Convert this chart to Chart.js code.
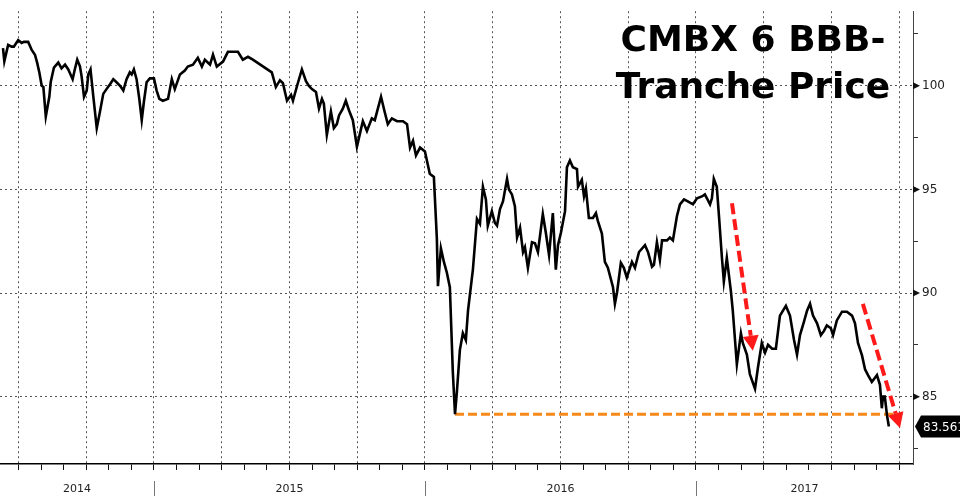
<!DOCTYPE html>
<html>
<head>
<meta charset="utf-8">
<script src="https://cdn.jsdelivr.net/npm/chart.js@4"></script>
<style>
  body { margin: 0; background: #fff; }
  #wrap { width: 960px; height: 496px; position: relative; }
</style>
</head>
<body>
<div id="wrap"><canvas id="myChart"></canvas></div>
<script>
// dates as decimal years, price
var dates = [
  2014.443,2014.448,2014.462,2014.475,2014.483,2014.499,2014.512,2014.520,2014.536,2014.549,
  2014.561,2014.569,2014.577,2014.586,2014.592,2014.601,2014.614,2014.619,2014.631,2014.647,
  2014.659,2014.672,2014.684,2014.700,2014.708,2014.717,2014.727,2014.733,2014.742,2014.752,
  2014.758,2014.766,2014.776,2014.789,2014.801,2014.813,2014.825,2014.838,2014.850,2014.862,
  2014.875,2014.887,2014.899,2014.911,2014.918,2014.926,2014.936,2014.946,2014.955,2014.963,
  2014.973,2014.985,2015.000,2015.010,2015.020,2015.033,2015.052,2015.066,2015.077,2015.096,
  2015.114,2015.125,2015.144,2015.162,2015.177,2015.188,2015.207,2015.218,2015.232,2015.255,
  2015.273,2015.292,2015.310,2015.328,2015.347,2015.365,2015.387,2015.413,2015.435,2015.450,
  2015.465,2015.476,2015.491,2015.506,2015.513,2015.528,2015.546,2015.561,2015.572,2015.583,
  2015.598,2015.609,2015.620,2015.627,2015.638,2015.653,2015.664,2015.675,2015.683,2015.697,
  2015.708,2015.720,2015.734,2015.749,2015.764,2015.771,2015.786,2015.804,2015.815,2015.838,
  2015.852,2015.863,2015.878,2015.897,2015.919,2015.934,2015.945,2015.956,2015.967,2015.982,
  2016.000,2016.018,2016.033,2016.044,2016.048,2016.059,2016.070,2016.081,2016.092,2016.103,
  2016.111,2016.118,2016.129,2016.140,2016.151,2016.159,2016.177,2016.192,2016.203,2016.214,
  2016.225,2016.232,2016.247,2016.258,2016.266,2016.277,2016.288,2016.303,2016.310,2016.321,
  2016.332,2016.340,2016.351,2016.362,2016.369,2016.380,2016.395,2016.406,2016.417,2016.435,
  2016.446,2016.458,2016.472,2016.483,2016.491,2016.502,2016.517,2016.524,2016.535,2016.546,
  2016.561,2016.565,2016.579,2016.587,2016.594,2016.605,2016.620,2016.631,2016.638,2016.653,
  2016.664,2016.675,2016.694,2016.701,2016.709,2016.723,2016.734,2016.745,2016.764,2016.775,
  2016.790,2016.812,2016.823,2016.838,2016.845,2016.856,2016.867,2016.875,2016.893,2016.904,
  2016.915,2016.930,2016.941,2016.956,2016.970,2016.989,2017.004,2017.022,2017.033,2017.052,
  2017.059,2017.066,2017.077,2017.085,2017.096,2017.103,2017.114,2017.129,2017.136,2017.151,
  2017.166,2017.173,2017.188,2017.199,2017.218,2017.229,2017.243,2017.255,2017.266,2017.281,
  2017.295,2017.310,2017.332,2017.347,2017.362,2017.373,2017.384,2017.399,2017.410,2017.421,
  2017.432,2017.447,2017.461,2017.472,2017.483,2017.498,2017.506,2017.520,2017.539,2017.557,
  2017.576,2017.587,2017.598,2017.613,2017.624,2017.635,2017.649,2017.668,2017.679,2017.686,
  2017.690,2017.697,2017.705,2017.712
];
var price = [
  101.82,101.18,101.97,101.89,101.89,102.20,102.07,102.12,102.12,101.73,
  101.50,101.12,100.65,100.00,99.94,98.52,99.47,100.17,100.88,101.12,
  100.84,101.02,100.79,100.32,100.79,101.26,100.94,100.47,99.47,99.77,
  100.55,100.79,99.53,97.96,98.76,99.61,99.84,100.08,100.32,100.17,
  100.00,99.77,100.32,100.65,100.55,100.79,100.32,99.37,98.35,99.23,
  100.17,100.36,100.36,99.77,99.37,99.28,99.37,100.32,99.84,100.55,
  100.74,100.93,101.02,101.35,100.93,101.26,101.02,101.50,100.93,101.17,
  101.64,101.64,101.64,101.26,101.40,101.26,101.07,100.84,100.65,99.94,
  100.27,100.13,99.28,99.56,99.28,99.99,100.79,100.22,99.99,99.84,
  99.70,98.90,99.37,99.14,97.63,98.76,97.96,98.15,98.57,98.90,
  99.28,98.81,98.34,97.06,97.91,98.29,97.82,98.43,98.34,99.47,
  98.71,98.15,98.43,98.29,98.29,98.15,97.02,97.35,96.64,97.02,
  96.83,95.75,95.60,92.64,90.33,92.16,91.50,90.98,90.28,86.18,
  84.15,85.24,87.26,88.06,87.73,89.15,91.13,93.58,93.34,95.13,
  94.52,93.25,93.95,93.39,93.25,94.05,94.42,95.51,94.99,94.76,
  94.19,92.68,93.15,91.98,92.21,91.22,92.45,92.40,91.98,93.81,
  92.92,91.83,93.86,91.13,92.31,92.92,93.95,96.07,96.40,96.07,
  95.98,95.13,95.46,94.66,95.04,93.62,93.62,93.86,93.48,92.87,
  91.50,91.22,90.28,89.48,90.04,91.46,91.22,90.75,91.50,91.22,
  91.98,92.31,91.98,91.27,91.36,92.45,91.60,92.54,92.54,92.68,
  92.54,93.72,94.28,94.52,94.42,94.28,94.57,94.66,94.76,94.28,
  94.57,95.51,95.13,93.72,91.69,90.56,91.69,90.09,89.15,86.56,
  88.06,87.59,87.03,86.09,85.38,86.42,87.59,87.12,87.50,87.31,
  87.31,88.91,89.38,88.91,87.73,87.03,87.97,88.63,89.15,89.48,
  88.91,88.54,87.97,88.16,88.44,88.30,87.97,88.68,89.10,89.10,
  88.91,88.54,87.59,86.98,86.32,86.04,85.71,86.04,85.57,84.44,
  85.00,85.00,84.10,83.561
];
var yearLabels = ["2014", "2015", "2016", "2017"];
var titleLines = ["CMBX 6 BBB-", "Tranche Price"];
var xRange = [2014.432, 2017.801];
var yRange = [81.75, 103.6];
var yTicks = [82.5, 85, 87.5, 90, 92.5, 95, 97.5, 100, 102.5];
// orange line: Feb 2016 low carried forward
var floorStart = 2016.111;
var floorEnd = 2017.745;
// red arrows: [fromDate, fromPrice, toDate, toPrice]
var arrows = [
  [2017.133, 94.33, 2017.210, 87.22],
  [2017.616, 89.48, 2017.753, 83.49]
];

var series = dates.map(function (d, i) { return { x: d, y: price[i] }; });
var floorLevel = price[dates.indexOf(floorStart)];
var last = price[price.length - 1];

function isQuarter(v) {
  return Math.round((v - 2014) * 12) % 3 === 0;
}

var extras = {
  id: "extras",
  afterDraw: function (chart) {
    var ctx = chart.ctx, xs = chart.scales.x, ys = chart.scales.y, area = chart.chartArea;
    ctx.save();

    // year labels and separators under the axis
    ctx.font = "11px 'DejaVu Sans'";
    ctx.fillStyle = "#222";
    ctx.textAlign = "center";
    ctx.textBaseline = "middle";
    ctx.strokeStyle = "#777";
    ctx.lineWidth = 1;
    yearLabels.forEach(function (lab) {
      var y0 = +lab;
      var a = Math.max(y0, xs.min), b = Math.min(y0 + 1, xs.max);
      ctx.fillText(lab, (xs.getPixelForValue(a) + xs.getPixelForValue(b)) / 2, area.bottom + 25);
      if (y0 > xs.min) {
        var px = Math.round(xs.getPixelForValue(y0)) + 0.5;
        ctx.beginPath();
        ctx.moveTo(px, area.bottom + 17);
        ctx.lineTo(px, chart.height);
        ctx.stroke();
      }
    });

    // little triangles at major y ticks
    ctx.fillStyle = "#111";
    yTicks.forEach(function (v) {
      if (v % 5 !== 0) return;
      var py = ys.getPixelForValue(v);
      ctx.beginPath();
      ctx.moveTo(area.right, py - 3.5);
      ctx.lineTo(area.right + 7, py);
      ctx.lineTo(area.right, py + 3.5);
      ctx.closePath();
      ctx.fill();
    });

    // red dashed arrows
    ctx.strokeStyle = "#ff1a1a";
    ctx.fillStyle = "#ff1a1a";
    arrows.forEach(function (a) {
      var x1 = xs.getPixelForValue(a[0]), y1 = ys.getPixelForValue(a[1]);
      var x2 = xs.getPixelForValue(a[2]), y2 = ys.getPixelForValue(a[3]);
      var ang = Math.atan2(y2 - y1, x2 - x1);
      var head = 15, half = 8;
      var bx = x2 - head * Math.cos(ang), by = y2 - head * Math.sin(ang);
      ctx.lineWidth = 4;
      ctx.setLineDash([11, 5]);
      ctx.beginPath();
      ctx.moveTo(x1, y1);
      ctx.lineTo(bx, by);
      ctx.stroke();
      ctx.setLineDash([]);
      ctx.beginPath();
      ctx.moveTo(x2, y2);
      ctx.lineTo(bx + half * Math.sin(ang), by - half * Math.cos(ang));
      ctx.lineTo(bx - half * Math.sin(ang), by + half * Math.cos(ang));
      ctx.closePath();
      ctx.fill();
    });

    // last price box
    var ly = ys.getPixelForValue(last);
    ctx.fillStyle = "#000";
    ctx.beginPath();
    ctx.moveTo(area.right + 2, ly);
    ctx.lineTo(area.right + 8, ly - 11);
    ctx.lineTo(chart.width, ly - 11);
    ctx.lineTo(chart.width, ly + 11);
    ctx.lineTo(area.right + 8, ly + 11);
    ctx.closePath();
    ctx.fill();
    ctx.fillStyle = "#fff";
    ctx.font = "12px 'DejaVu Sans'";
    ctx.textAlign = "left";
    ctx.textBaseline = "middle";
    ctx.fillText(last.toFixed(3), area.right + 10, ly + 1);

    // title
    ctx.fillStyle = "#000";
    ctx.font = "bold 36px 'DejaVu Sans'";
    ctx.textAlign = "center";
    ctx.textBaseline = "alphabetic";
    ctx.fillText(titleLines[0], area.right - 160, area.top + 40);
    ctx.fillText(titleLines[1], area.right - 160, area.top + 87);

    ctx.restore();
  }
};

document.addEventListener("DOMContentLoaded", function () {
  var ctx = document.getElementById("myChart").getContext("2d");
  var myChart = new Chart(ctx, {
    type: "line",
    data: {
      datasets: [
        {
          label: "Low",
          data: [{ x: floorStart, y: floorLevel }, { x: floorEnd, y: floorLevel }],
          borderColor: "#f7891b",
          borderWidth: 3,
          borderDash: [9, 4],
          pointRadius: 0,
          order: 2
        },
        {
          label: "CMBX 6 BBB-",
          data: series,
          borderColor: "#000",
          borderWidth: 2.6,
          pointRadius: 0,
          tension: 0,
          order: 1
        }
      ]
    },
    options: {
      responsive: true,
      maintainAspectRatio: false,
      animation: false,
      layout: { padding: 0 },
      plugins: {
        legend: { display: false },
        tooltip: { enabled: false }
      },
      scales: {
        x: {
          type: "linear",
          min: xRange[0],
          max: xRange[1],
          afterBuildTicks: function (scale) {
            var t = [];
            for (var m = 6; m <= 45; m++) t.push({ value: 2014 + m / 12 });
            scale.ticks = t;
          },
          afterFit: function (scale) { scale.height = 32; },
          ticks: { display: false },
          grid: {
            color: function (c) {
              return c.tick && isQuarter(c.tick.value) ? "#555" : "rgba(0,0,0,0)";
            },
            tickColor: "#111",
            tickLength: 6,
            tickBorderDash: []
          },
          border: { display: true, color: "#000", width: 1.5, dash: [2, 3] }
        },
        y: {
          position: "right",
          min: yRange[0],
          max: yRange[1],
          afterBuildTicks: function (scale) {
            scale.ticks = yTicks.map(function (v) { return { value: v }; });
          },
          afterFit: function (scale) { scale.width = 47; },
          ticks: {
            padding: 4,
            color: "#222",
            font: { family: "'DejaVu Sans'", size: 12 },
            callback: function (v) { return v % 5 === 0 ? v : ""; }
          },
          grid: {
            color: function (c) {
              return c.tick && c.tick.value % 5 === 0 ? "#555" : "rgba(0,0,0,0)";
            },
            tickColor: function (c) {
              return c.tick && c.tick.value % 5 === 0 ? "rgba(0,0,0,0)" : "#333";
            },
            tickLength: 5,
            tickBorderDash: []
          },
          border: { display: true, color: "#444", width: 1, dash: [2, 3] }
        }
      }
    },
    plugins: [extras]
  });
});
</script>
</body>
</html>
